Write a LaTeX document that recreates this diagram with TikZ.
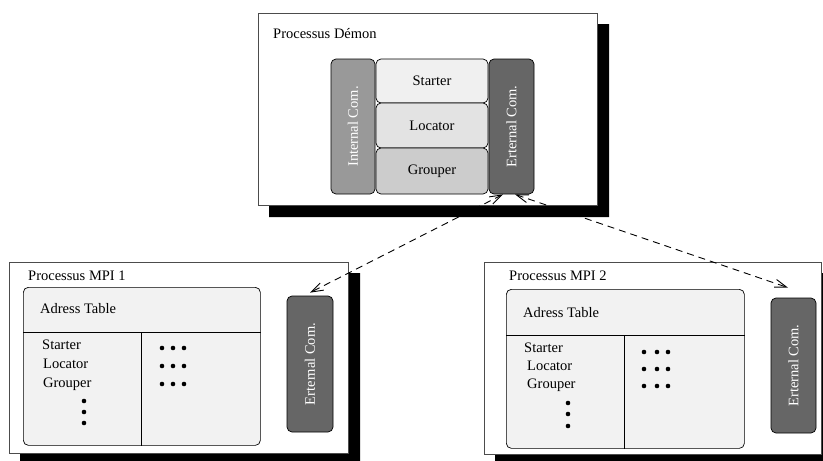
\documentclass[tikz,border=0pt]{standalone}
\usepackage{fontspec}
\setmainfont{Liberation Serif}
\usetikzlibrary{arrows.meta}
\definecolor{cellA}{gray}{0.94}
\definecolor{cellB}{gray}{0.89}
\definecolor{cellC}{gray}{0.80}
\definecolor{intcom}{gray}{0.60}
\definecolor{extcom}{gray}{0.40}
\definecolor{tablefill}{gray}{0.95}
\begin{document}
\begin{tikzpicture}[x=1pt,y=-1pt,
  font=\fontsize{14.5}{16}\selectfont,
  frame/.style={draw=black!70, line width=1pt, fill=white, inner sep=0pt, anchor=north west},
  cell/.style={draw=black, line width=0.7pt, rounded corners=5pt, inner sep=0pt},
  tablebox/.style={cell, fill=tablefill, anchor=north west},
  comm/.style={cell, rotate=90, text=white},
  label/.style={anchor=base west, inner sep=0pt},
  link/.style={line width=0.9pt, dash pattern=on 7pt off 5pt,
    {Straight Barb[length=12pt,width=8pt]}-{Straight Barb[length=12pt,width=8pt]}},
  dot/.style={fill=black}]
\useasboundingbox (0,0) rectangle (823,461);

% ---- daemon process ----
\node[frame, minimum width=339pt, minimum height=192pt] (demon) at (258,13) {};
\node[label] (demontitle) at (273,38) {Processus Démon};
\node[comm, fill=intcom, minimum width=135pt, minimum height=44pt] (ic) at (353,126.5) {Internal Com.};
\node[cell, fill=cellA, minimum width=112pt, minimum height=44pt] (starter) at (432,81) {Starter};
\node[cell, fill=cellB, minimum width=112pt, minimum height=45pt] (locator) at (432,125.5) {Locator};
\node[cell, fill=cellC, minimum width=112pt, minimum height=46pt] (grouper) at (432,171) {Grouper};
\node[comm, fill=extcom, minimum width=135pt, minimum height=45pt] (ec) at (511.5,126.5) {Erternal Com.};

% ---- MPI process 1 ----
\node[frame, minimum width=339pt, minimum height=191pt] (mpia) at (9,262) {};
\node[label] (titlea) at (28,280) {Processus MPI 1};
\node[tablebox, minimum width=237pt, minimum height=158pt] (taba) at (23,287) {};
\coordinate (ha) at (0,332);
\coordinate (va) at (141,0);
\draw[line width=0.7pt] (taba.west |- ha) -- (taba.east |- ha);
\draw[line width=0.7pt] (va |- ha) -- (va |- taba.south);
\node[label] (adra) at (40,313) {Adress Table};
\node[label] (stara) at (42,349) {Starter};
\node[label] (loca) at (43,368) {Locator};
\node[label] (grpa) at (43,387) {Grouper};
\foreach \y in {401,412,423} \fill[dot] (84,\y) circle (2.3pt);
\foreach \y in {348,366,384}
  \foreach \x in {162,173,184} \fill[dot] (\x,\y) circle (2.3pt);
\node[comm, fill=extcom, minimum width=136pt, minimum height=46pt] (eca) at (310,364) {Erternal Com.};

% ---- MPI process 2 ----
\node[frame, minimum width=337pt, minimum height=192pt] (mpib) at (484,262) {};
\node[label] (titleb) at (509,280) {Processus MPI 2};
\node[tablebox, minimum width=238pt, minimum height=159pt] (tabb) at (506,289) {};
\coordinate (hb) at (0,335);
\coordinate (vb) at (624,0);
\draw[line width=0.7pt] (tabb.west |- hb) -- (tabb.east |- hb);
\draw[line width=0.7pt] (vb |- hb) -- (vb |- tabb.south);
\node[label] (adrb) at (523,317) {Adress Table};
\node[label] (starb) at (524,352) {Starter};
\node[label] (locb) at (527,370) {Locator};
\node[label] (grpb) at (527,388) {Grouper};
\foreach \y in {403,414,426} \fill[dot] (568,\y) circle (2.3pt);
\foreach \y in {352,369,386}
  \foreach \x in {644,657,668} \fill[dot] (\x,\y) circle (2.3pt);
\node[comm, fill=extcom, minimum width=135pt, minimum height=45pt] (ecb) at (793.5,365.5) {Erternal Com.};

% ---- links between the communication modules ----
% (the comm boxes are rotated: west is their bottom, east their top)
\coordinate (ecout) at ([xshift=-8.5pt]ec.west);
\coordinate (ecin) at ([xshift=3.5pt]ec.west);
\coordinate (ecaend) at ([yshift=3pt]eca.east);
\coordinate (ecbend) at ([xshift=-5.5pt,yshift=10pt]ecb.east);
\draw[link] (ecout) -- (ecaend);
\draw[link] (ecin) -- (ecbend);

% ---- drop shadows ----
\foreach \b in {demon,mpia,mpib}{
  \fill[black] ([yshift=-11pt]\b.north east) -- ([xshift=11pt,yshift=-11pt]\b.north east)
    -- ([xshift=11pt,yshift=-11pt]\b.south east) -- ([xshift=11pt,yshift=-11pt]\b.south west)
    -- ([xshift=11pt]\b.south west) -- (\b.south east) -- cycle;
}
\end{tikzpicture}
\end{document}
